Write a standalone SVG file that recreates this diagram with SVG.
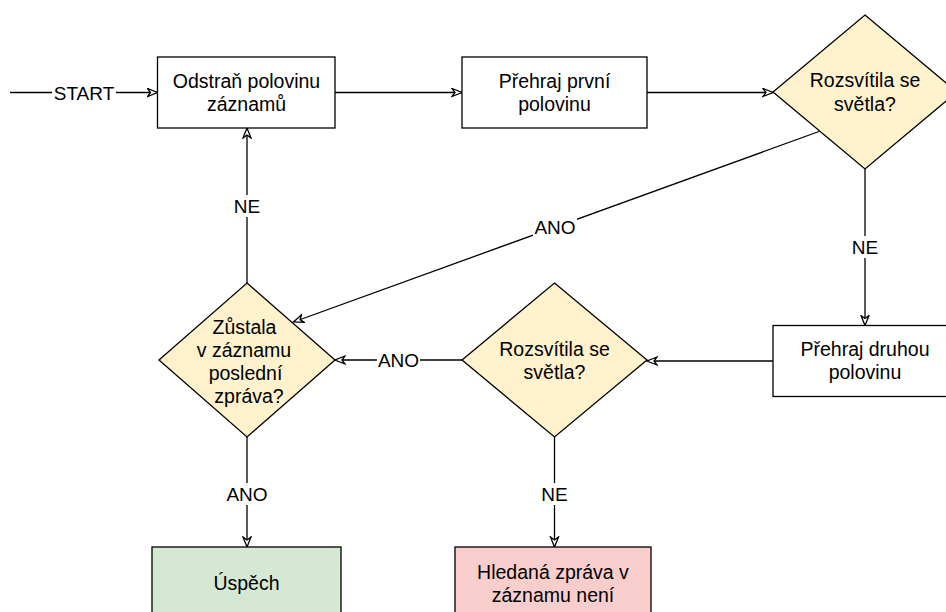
<svg xmlns="http://www.w3.org/2000/svg" width="946" height="612" viewBox="0 0 946 612">
<style>
.box{stroke:#000;stroke-width:1.3}
.t{font-family:"Liberation Sans",Arial,Helvetica,sans-serif;font-size:19.5px;fill:#000;text-anchor:middle}
.l{font-family:"Liberation Sans",Arial,Helvetica,sans-serif;font-size:19px;fill:#000;text-anchor:middle}
.e{fill:none;stroke:#000;stroke-width:1.3;marker-end:url(#arr)}
.bg{fill:#fff}
</style>
<defs>
<marker id="arr" markerUnits="userSpaceOnUse" markerWidth="14" markerHeight="12" refX="11" refY="5" orient="auto" viewBox="0 0 14 12">
<path d="M1,1 L11,5 L1,9 L4,5 Z" fill="#fff" stroke="#000" stroke-width="1.3"/>
</marker>
</defs>
<rect width="946" height="612" fill="#fff"/>
<g id="connectors">
<path class="e" d="M10,92.5 H157.5"/>
<path class="e" d="M335,92.5 H462"/>
<path class="e" d="M647,92.5 H773"/>
<path class="e" d="M865,169 V325.5"/>
<path class="e" d="M773,361 H647"/>
<path class="e" d="M462,360 H335"/>
<path class="e" d="M819,131.5 L293.5,322"/>
<path class="e" d="M247,283 V128"/>
<path class="e" d="M247,437 V547"/>
<path class="e" d="M554.5,437 V547"/>
<rect class="bg" x="52" y="82" width="64" height="22"/>
<text class="l" x="84" y="99.5">START</text>
<rect class="bg" x="233" y="195" width="28" height="22"/>
<text class="l" x="247" y="212.5">NE</text>
<rect class="bg" x="533" y="216" width="44" height="22"/>
<text class="l" x="555" y="233.5">ANO</text>
<rect class="bg" x="851" y="236" width="28" height="22"/>
<text class="l" x="865" y="253.5">NE</text>
<rect class="bg" x="377" y="349" width="43" height="22"/>
<text class="l" x="398.5" y="367">ANO</text>
<rect class="bg" x="225" y="483" width="44" height="22"/>
<text class="l" x="247" y="500.5">ANO</text>
<rect class="bg" x="540" y="483" width="29" height="22"/>
<text class="l" x="554.5" y="500.5">NE</text>
</g>
<g id="n1">
<rect class="box" x="157.5" y="57" width="177.5" height="71" fill="#fff"/>
<text class="t" x="246.5" y="87.5">Odstraň polovinu</text>
<text class="t" x="246.5" y="111">záznamů</text>
</g>
<g id="n2">
<rect class="box" x="462" y="57" width="185" height="71" fill="#fff"/>
<text class="t" x="554.5" y="87.5">Přehraj první</text>
<text class="t" x="554.5" y="111">polovinu</text>
</g>
<g id="n3">
<path class="box" d="M865,15 L957,92 L865,169 L773,92 Z" fill="#fff2cc"/>
<text class="t" x="865" y="87">Rozsvítila se</text>
<text class="t" x="865" y="110.5">světla?</text>
</g>
<g id="n4">
<rect class="box" x="773" y="325.5" width="184" height="71" fill="#fff"/>
<text class="t" x="865" y="355.5">Přehraj druhou</text>
<text class="t" x="865" y="379">polovinu</text>
</g>
<g id="n5">
<path class="box" d="M554.5,283 L647,360 L554.5,437 L462,360 Z" fill="#fff2cc"/>
<text class="t" x="554.5" y="355.5">Rozsvítila se</text>
<text class="t" x="554.5" y="379">světla?</text>
</g>
<g id="n6">
<path class="box" d="M247,283 L335,360 L247,437 L159,360 Z" fill="#fff2cc"/>
<text class="t" x="244.5" y="333.5">Zůstala</text>
<text class="t" x="244" y="356.5">v záznamu</text>
<text class="t" x="245.5" y="379.5">poslední</text>
<text class="t" x="249" y="402.5">zpráva?</text>
</g>
<g id="n7">
<rect class="box" x="152" y="547" width="189" height="71" fill="#d5e8d4"/>
<text class="t" x="246.5" y="590">Úspěch</text>
</g>
<g id="n8">
<rect class="box" x="455" y="547" width="196" height="71" fill="#f8cecc"/>
<text class="t" x="553" y="578.5">Hledaná zpráva v</text>
<text class="t" x="553" y="602">záznamu není</text>
</g>
</svg>
